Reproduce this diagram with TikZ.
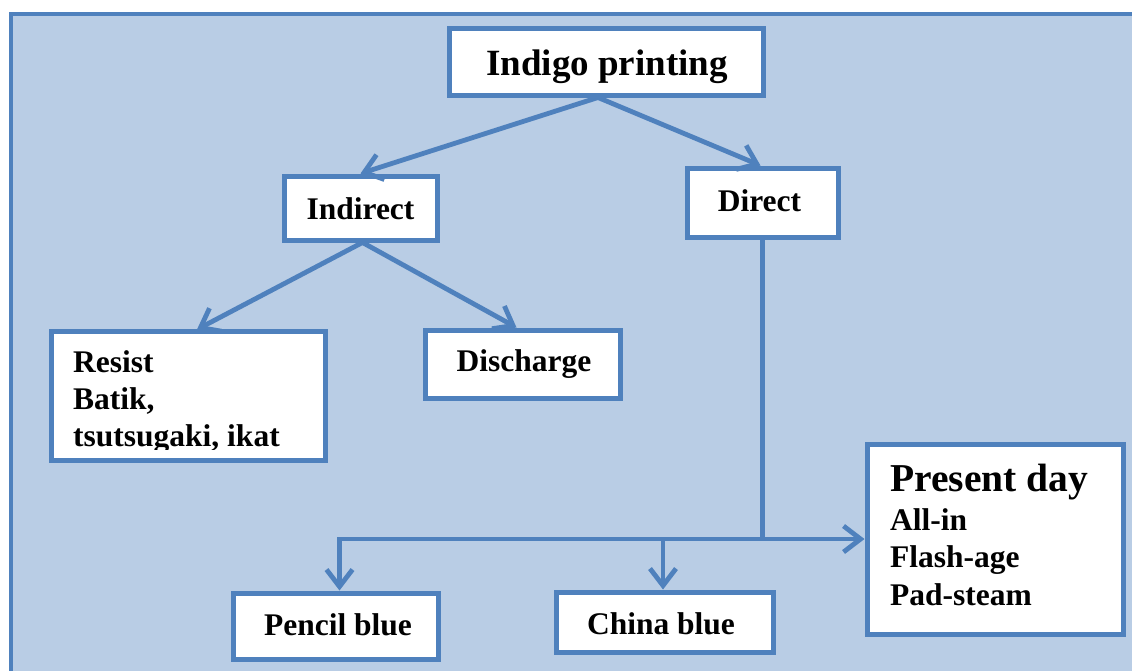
\documentclass[tikz,border=0pt]{standalone}
\usepackage{fontspec}
\setmainfont{Liberation Serif}
\usetikzlibrary{arrows.meta}
\definecolor{frameblue}{HTML}{4F81BD}
\definecolor{panel}{HTML}{B9CDE5}
\tikzset{
  box/.style={draw=frameblue, line width=5pt, fill=white, inner sep=0pt},
  txt/.style={font=\bfseries\fontsize{31.5}{37}\selectfont, inner sep=0pt, text=black},
  bigtxt/.style={font=\bfseries\fontsize{37}{44}\selectfont, inner sep=0pt, text=black},
  link/.style={draw=frameblue, line width=4.8pt},
  tip/.style={-{Straight Barb[length=17pt,width=26pt]}},
  twotips/.style={{Straight Barb[length=17pt,width=26pt]}-{Straight Barb[length=17pt,width=26pt]}},
}
\begin{document}
\begin{tikzpicture}[x=1pt,y=-1pt]
\useasboundingbox (0,0) rectangle (1132,670);
\clip (0,0) rectangle (1132,670);
% panel
\draw[fill=panel, draw=frameblue, line width=4.5pt] (11,14) rectangle (1160,700);

% boxes
\node[box, minimum width=314pt, minimum height=67pt]  (indigo)    at (606,61.5)   {};
\node[box, minimum width=153pt, minimum height=64pt]  (indirect)  at (360.5,208)  {};
\node[box, minimum width=151pt, minimum height=69pt]  (direct)    at (762.5,202.5){};
\node[box, minimum width=274pt, minimum height=128.5pt] (resist)  at (188,396.2)  {};
\node[box, minimum width=195pt, minimum height=68pt]  (discharge) at (522.5,364)  {};
\node[box, minimum width=205pt, minimum height=66pt]  (pencil)    at (335.5,626)  {};
\node[box, minimum width=217pt, minimum height=60pt]  (china)     at (664.5,622)  {};
\node[box, minimum width=256pt, minimum height=190pt] (present)   at (995,539)    {};

% texts
\node[bigtxt, anchor=base] (tindigo) at (607,75) {Indigo printing};
\node[txt, anchor=base] (tindirect) at (360.5,219) {Indirect};
\node[txt, anchor=base] (tdirect) at (759.5,211.7) {Direct};
\node[txt, anchor=base] (tdischarge) at (524,371.7) {Discharge};
\node[txt, anchor=base] (tpencil) at (338,635) {Pencil blue};
\node[txt, anchor=base] (tchina) at (661,634) {China blue};
\begin{scope}
  \clip (51,332) rectangle (325,449);
  \node[txt, anchor=base west] (tresist1) at (73,372.7) {Resist};
  \node[txt, anchor=base west] (tresist2) at (73,409.7) {Batik,};
  \node[txt, anchor=base west] (tresist3) at (73,446.7) {tsutsugaki, ikat};
\end{scope}
\node[txt, font=\bfseries\fontsize{39.5}{44}\selectfont, anchor=base west] (tpresent) at (890,491.7) {Present day};
\node[txt, anchor=base west] (tallin) at (890,530) {All-in};
\node[txt, anchor=base west] (tflash) at (890,567.5) {Flash-age};
\node[txt, anchor=base west] (tpad) at (890,605) {Pad-steam};

% connectors
\draw[link, tip] ([xshift=-8pt]indigo.south) -- (indirect.north);
\draw[link, tip] ([xshift=-8pt]indigo.south) -- ([xshift=-2pt]direct.north);
\draw[link, tip] ([xshift=2pt]indirect.south) -- ([xshift=9pt]resist.north);
\draw[link, tip] ([xshift=2pt]indirect.south) -- ([xshift=-6pt]discharge.north);
\draw[link] (direct.south) -- (direct.south |- present.west);
\draw[link, twotips] ([xshift=4pt]pencil.north) |- (present.west);
\draw[link, tip] ([xshift=-1.5pt]china.north |- present.west) -- ([xshift=-1.5pt]china.north);
\end{tikzpicture}
\end{document}
